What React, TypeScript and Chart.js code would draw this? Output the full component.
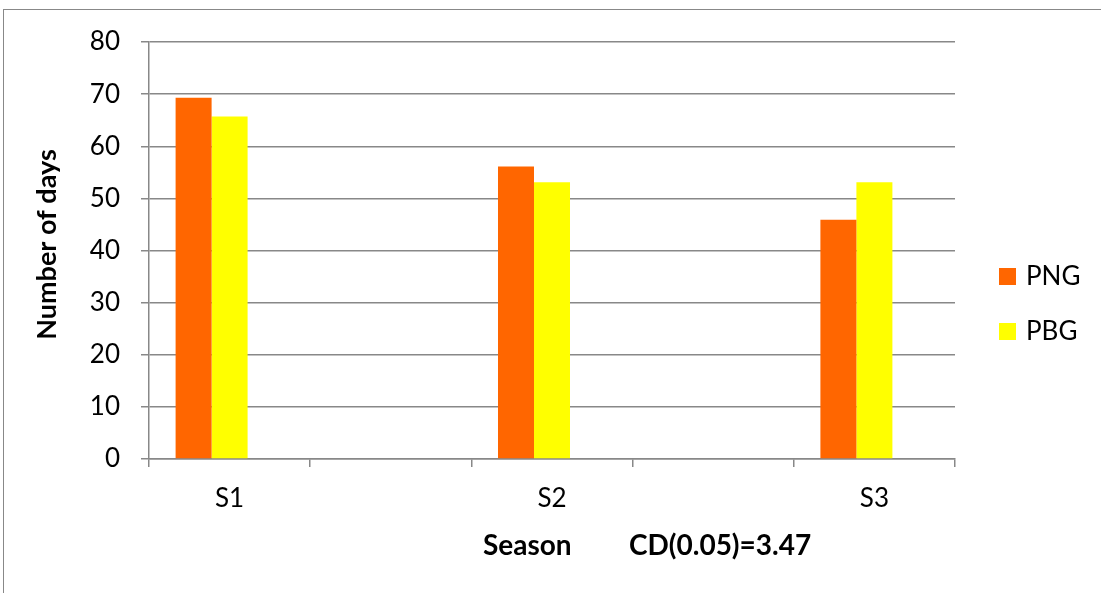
import { useEffect, useRef } from "react";
import { Chart, registerables } from "chart.js";

Chart.register(...registerables);

// Seasons, with empty slots between them for spacing along the axis
const seasons = ["S1", "", "S2", "", "S3"];
const pngDays = [69.3, null, 56.1, null, 45.9];
const pbgDays = [65.7, null, 53.1, null, 53.1];
// Third series slot is empty; it only reserves room in each group
const spareDays = [null, null, null, null, null];
const seriesNames = ["PNG", "PBG", ""];
const seriesColors = ["#FF6600", "#FFFF00", "#FFFFFF"];
const yMin = 0;
const yMax = 80;
const yStep = 10;
const yTitle = "Number of days";
const xTitleParts = ["Season", "CD(0.05)=3.47"];

const FONT = "Lato, 'Liberation Sans', sans-serif";
const GRID = "#888888";

const titlesAndLegend = {
  id: "titlesAndLegend",
  afterDraw(chart: any) {
    const { ctx, chartArea } = chart;
    ctx.save();
    ctx.fillStyle = "#000";
    ctx.textBaseline = "middle";

    // Vertical axis title
    ctx.font = `bold 27px ${FONT}`;
    ctx.save();
    ctx.translate(47, (chartArea.top + chartArea.bottom) / 2 - 6);
    ctx.rotate(-Math.PI / 2);
    ctx.textAlign = "center";
    ctx.fillText(yTitle, 0, 0);
    ctx.restore();

    // Horizontal axis title with the CD value
    ctx.font = `bold 28px ${FONT}`;
    ctx.textAlign = "left";
    ctx.fillText(xTitleParts[0], 483, 546);
    ctx.fillText(xTitleParts[1], 629, 546);

    // Legend on the right
    ctx.font = `26px ${FONT}`;
    chart.data.datasets.forEach((ds: any, i: number) => {
      if (!ds.label) return;
      const y = 276 + i * 55;
      ctx.fillStyle = ds.backgroundColor;
      ctx.fillRect(999, y - 8, 17, 17);
      ctx.fillStyle = "#000";
      ctx.fillText(ds.label, 1026, y + 1);
    });
    ctx.restore();
  },
};

export default function App() {
  const canvasRef = useRef<HTMLCanvasElement | null>(null);

  useEffect(() => {
    if (!canvasRef.current) return;
    const chart = new Chart(canvasRef.current, {
      type: "bar",
      data: {
        labels: seasons,
        datasets: [
          { label: seriesNames[0], data: pngDays, backgroundColor: seriesColors[0] },
          { label: seriesNames[1], data: pbgDays, backgroundColor: seriesColors[1] },
          { label: seriesNames[2], data: spareDays, backgroundColor: seriesColors[2] },
        ],
      },
      options: {
        responsive: false,
        animation: false,
        datasets: {
          bar: { categoryPercentage: 0.67, barPercentage: 1 },
        },
        layout: { padding: { top: 42, right: 146, bottom: 0, left: 0 } },
        plugins: {
          legend: { display: false },
          tooltip: { enabled: false },
        },
        scales: {
          x: {
            grid: {
              drawOnChartArea: false,
              drawTicks: true,
              tickLength: 8,
              color: GRID,
              lineWidth: 1.5,
              offset: true,
            },
            border: { color: GRID, width: 1.5 },
            ticks: { color: "#000", font: { family: FONT, size: 26 }, padding: 16 },
            afterFit: (s: any) => {
              s.height = 134;
            },
          },
          y: {
            min: yMin,
            max: yMax,
            grid: { color: GRID, lineWidth: 1.5, tickLength: 8 },
            border: { color: GRID, width: 1.5 },
            ticks: {
              stepSize: yStep,
              color: "#000",
              font: { family: FONT, size: 26 },
              padding: 21,
            },
            afterFit: (s: any) => {
              s.width = 149;
            },
          },
        },
      },
      plugins: [titlesAndLegend],
    });
    return () => chart.destroy();
  }, []);

  return (
    <div
      style={{
        position: "fixed",
        left: 0,
        top: 0,
        width: 1101,
        height: 593,
        background: "#fff",
        overflow: "hidden",
      }}
    >
      <canvas ref={canvasRef} width={1101} height={593} style={{ display: "block" }} />
      <div
        style={{
          position: "absolute",
          left: 3,
          top: 9,
          width: 1200,
          height: 700,
          borderTop: `1.5px solid ${GRID}`,
          borderLeft: `1.5px solid ${GRID}`,
          pointerEvents: "none",
        }}
      />
    </div>
  );
}
